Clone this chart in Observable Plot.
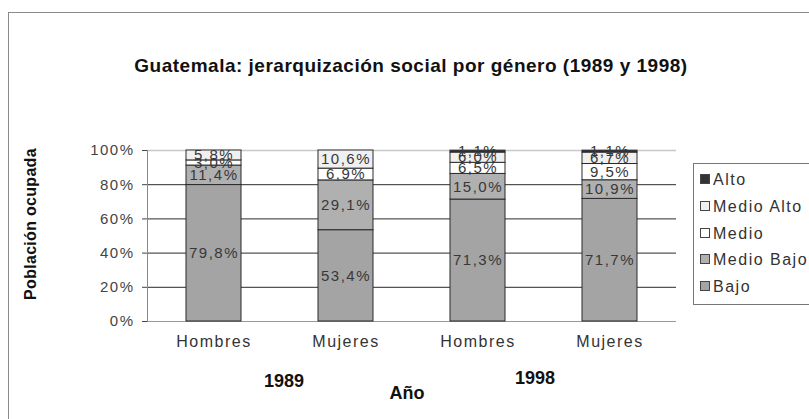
<!DOCTYPE html>
<html>
<head>
<meta charset="utf-8">
<script src="https://cdn.jsdelivr.net/npm/d3@7"></script>
<script src="https://cdn.jsdelivr.net/npm/@observablehq/plot@0.6"></script>
<style>
  html, body { margin: 0; padding: 0; background: #fff; }
  #wrap { position: relative; width: 809px; height: 419px; overflow: hidden; font-family: "Liberation Sans", Arial, sans-serif; background: #fff; }
  #wrap svg { position: absolute; left: 0; top: 0; }
  #wrap svg text { letter-spacing: 1.5px; }
  .abs { position: absolute; white-space: nowrap; color: #111; }
  #border { position: absolute; left: 8px; top: 12px; width: 900px; height: 500px; border: 1px solid #8a8a8a; box-sizing: border-box; }
  #title { left: 0; width: 822px; top: 55px; text-align: center; font-weight: bold; font-size: 19px; letter-spacing: 0.5px; }
  #ylab { left: 31px; top: 224px; transform: translate(-50%, -50%) rotate(-90deg); font-weight: bold; font-size: 16px; letter-spacing: 0.3px; }
  .yr { font-weight: bold; font-size: 18px; transform: translate(-50%, -50%); }
  #legend { position: absolute; left: 693px; top: 163px; width: 140px; height: 142px; border: 1px solid #777; box-sizing: border-box; background: #fff; }
  .li { position: absolute; left: 6px; font-size: 16px; letter-spacing: 1.5px; color: #333; height: 18px; line-height: 18px; }
  .sw { display: inline-block; width: 8px; height: 8px; border: 1px solid #444; margin-right: 3px; vertical-align: 1px; }
</style>
</head>
<body>
<div id="wrap">
  <div id="border"></div>
</div>
<script>
// ---- data ----
const years = ["1989", "1989", "1998", "1998"];
const genders = ["Hombres", "Mujeres", "Hombres", "Mujeres"];
const levels = ["Bajo", "Medio Bajo", "Medio", "Medio Alto", "Alto"];
const bajo      = [79.8, 53.4, 71.3, 71.7];
const medioBajo = [11.4, 29.1, 15.0, 10.9];
const medio     = [3.0, 6.9, 6.5, 9.5];
const medioAlto = [5.8, 10.6, 6.0, 6.7];
const alto      = [0.0, 0.0, 1.1, 1.1];
const yTicks = [0, 20, 40, 60, 80, 100];
const legendOrder = ["Alto", "Medio Alto", "Medio", "Medio Bajo", "Bajo"];
const colors = { "Bajo": "#a4a4a4", "Medio Bajo": "#b0b0b0", "Medio": "#ffffff", "Medio Alto": "#f0f0f0", "Alto": "#333333" };

const series = [bajo, medioBajo, medio, medioAlto, alto];
const keys = years.map((y, i) => y + "|" + genders[i] + "|" + i);
const data = [];
keys.forEach((k, i) => levels.forEach((lv, j) => data.push({ key: k, level: lv, value: series[j][i] })));

const fmt = v => v > 0 ? v.toFixed(1).replace(".", ",") + "%" : "";

const chart = Plot.plot({
  width: 809, height: 419,
  marginLeft: 147, marginRight: 133, marginTop: 150, marginBottom: 98,
  style: { fontFamily: "Liberation Sans, Arial, sans-serif", background: "transparent" },
  x: { domain: keys, paddingInner: 0.58, paddingOuter: 0.29, label: null },
  y: { domain: [0, 100], label: null },
  color: { domain: levels, range: levels.map(l => colors[l]) },
  marks: [
    Plot.ruleY([20, 40, 60, 80], { stroke: "#2a2a2a", strokeWidth: 1 }),
    Plot.ruleY([100], { stroke: "#c8c8c8", strokeWidth: 1.5 }),
    Plot.ruleY([0], { stroke: "#999", strokeWidth: 1 }),
    Plot.barY(data, { x: "key", y: "value", z: "level", fill: "level", order: levels, stroke: "#2a2a2a", strokeWidth: 1 }),
    Plot.text(data, Plot.stackY({ x: "key", y: "value", z: "level", order: levels, text: d => fmt(d.value), fill: "#383838", fontSize: 15 })),
    Plot.frame({ anchor: "left", stroke: "#888" }),
    Plot.axisY({ ticks: yTicks, tickFormat: d => d + "%", tickSize: 5, tickPadding: 8, fontSize: 15, color: "#444", label: null }),
    Plot.axisX({ tickSize: 0, tickPadding: 14, fontSize: 16, color: "#333", tickFormat: k => k.split("|")[1], label: null })
  ]
});
const wrap = document.getElementById("wrap");
wrap.appendChild(chart);

function addText(id, cls, txt, x, y) {
  const d = document.createElement("div");
  if (id) d.id = id;
  d.className = "abs " + (cls || "");
  d.textContent = txt;
  if (x != null) d.style.left = x + "px";
  if (y != null) d.style.top = y + "px";
  wrap.appendChild(d);
  return d;
}
addText("title", "", "Guatemala: jerarquización social por género (1989 y 1998)");
addText("ylab", "", "Población ocupada");
addText(null, "yr", "1989", 284, 381);
addText(null, "yr", "1998", 535, 378);
addText(null, "yr", "Año", 407, 393);

const lg = document.createElement("div");
lg.id = "legend";
legendOrder.forEach((lv, i) => {
  const it = document.createElement("div");
  it.className = "li";
  it.style.top = (7 + i * 26.8) + "px";
  const sw = document.createElement("span");
  sw.className = "sw";
  sw.style.background = colors[lv];
  it.appendChild(sw);
  it.appendChild(document.createTextNode(lv));
  lg.appendChild(it);
});
wrap.appendChild(lg);
</script>
</body>
</html>
